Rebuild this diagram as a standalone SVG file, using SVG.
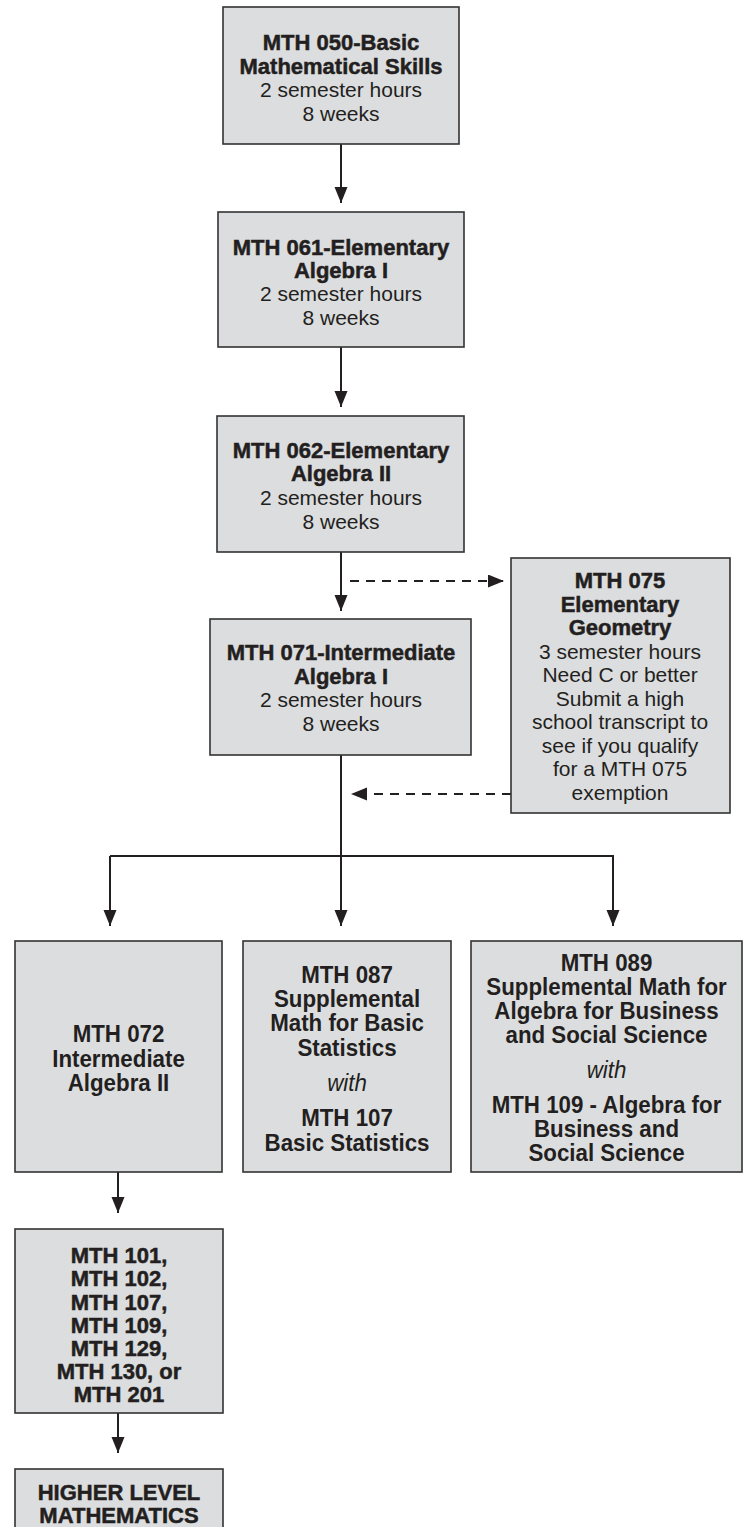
<svg xmlns="http://www.w3.org/2000/svg" width="745" height="1527" viewBox="0 0 745 1527">
<style>
.box{fill:#dcdddf;stroke:#333333;stroke-width:1.6}
.t{font-family:"Liberation Sans",Arial,sans-serif;fill:#231f20;text-anchor:middle}
.b{font-weight:bold;font-size:22px;stroke:#231f20;stroke-width:0.5}
.r{font-size:21px}
.n{font-family:"Liberation Sans",Arial,sans-serif;font-weight:bold;font-size:24px;fill:#231f20;text-anchor:middle}
.ni{font-family:"Liberation Sans",Arial,sans-serif;font-style:italic;font-size:24px;fill:#231f20;text-anchor:middle}
.ln{fill:none;stroke:#231f20;stroke-width:2}
.dl{fill:none;stroke:#231f20;stroke-width:2;stroke-dasharray:9 7}
</style>
<defs>
<marker id="ah" markerUnits="userSpaceOnUse" markerWidth="17" markerHeight="14" refX="16" refY="6.5" orient="auto">
<path d="M0,0 L16,6.5 L0,13 z" fill="#231f20"/>
</marker>
</defs>
<rect width="745" height="1527" fill="#ffffff"/>
<g id="connectors">
<line class="ln" x1="341" y1="144" x2="341" y2="203" marker-end="url(#ah)"/>
<line class="ln" x1="341" y1="347" x2="341" y2="407" marker-end="url(#ah)"/>
<line class="ln" x1="341" y1="552" x2="341" y2="611" marker-end="url(#ah)"/>
<line class="dl" x1="350" y1="581" x2="504" y2="581" marker-end="url(#ah)"/>
<line class="dl" x1="511" y1="794" x2="351" y2="794" marker-end="url(#ah)"/>
<line class="ln" x1="341" y1="755" x2="341" y2="926" marker-end="url(#ah)"/>
<polyline class="ln" points="110,856 613,856 613,926" marker-end="url(#ah)"/>
<path class="ln" d="M110,856 L110,926" marker-end="url(#ah)"/>
<line class="ln" x1="118" y1="1172" x2="118" y2="1213" marker-end="url(#ah)"/>
<line class="ln" x1="118" y1="1413" x2="118" y2="1453" marker-end="url(#ah)"/>
</g>
<g id="mth050">
<rect class="box" x="223" y="7" width="236" height="137"/>
<text class="t b" x="341" y="50">MTH 050-Basic</text>
<text class="t b" x="341" y="74">Mathematical Skills</text>
<text class="t r" x="341" y="97">2 semester hours</text>
<text class="t r" x="341" y="121">8 weeks</text>
</g>
<g id="mth061">
<rect class="box" x="218" y="212" width="246" height="135"/>
<text class="t b" x="341" y="255">MTH 061-Elementary</text>
<text class="t b" x="341" y="278">Algebra I</text>
<text class="t r" x="341" y="301">2 semester hours</text>
<text class="t r" x="341" y="325">8 weeks</text>
</g>
<g id="mth062">
<rect class="box" x="217" y="416" width="247" height="136"/>
<text class="t b" x="341" y="458">MTH 062-Elementary</text>
<text class="t b" x="341" y="481">Algebra II</text>
<text class="t r" x="341" y="505">2 semester hours</text>
<text class="t r" x="341" y="529">8 weeks</text>
</g>
<g id="mth071">
<rect class="box" x="210" y="619" width="261" height="136"/>
<text class="t b" x="341" y="660">MTH 071-Intermediate</text>
<text class="t b" x="341" y="684">Algebra I</text>
<text class="t r" x="341" y="707">2 semester hours</text>
<text class="t r" x="341" y="731">8 weeks</text>
</g>
<g id="mth075">
<rect class="box" x="511" y="558" width="219" height="255"/>
<text class="t b" x="620" y="588">MTH 075</text>
<text class="t b" x="620" y="611.5">Elementary</text>
<text class="t b" x="620" y="635">Geometry</text>
<text class="t r" x="620" y="658.5">3 semester hours</text>
<text class="t r" x="620" y="682">Need C or better</text>
<text class="t r" x="620" y="705.5">Submit a high</text>
<text class="t r" x="620" y="729">school transcript to</text>
<text class="t r" x="620" y="752.5">see if you qualify</text>
<text class="t r" x="620" y="776">for a MTH 075</text>
<text class="t r" x="620" y="799.5">exemption</text>
</g>
<g id="mth072">
<rect class="box" x="15" y="941" width="207" height="231"/>
<text class="n" transform="translate(118.5,1042) scale(0.93,1)">MTH 072</text>
<text class="n" transform="translate(118.5,1067) scale(0.93,1)">Intermediate</text>
<text class="n" transform="translate(118.5,1091) scale(0.93,1)">Algebra II</text>
</g>
<g id="mth087">
<rect class="box" x="243" y="941" width="208" height="231"/>
<text class="n" transform="translate(347,983) scale(0.93,1)">MTH 087</text>
<text class="n" transform="translate(347,1007) scale(0.93,1)">Supplemental</text>
<text class="n" transform="translate(347,1031) scale(0.93,1)">Math for Basic</text>
<text class="n" transform="translate(347,1056) scale(0.93,1)">Statistics</text>
<text class="ni" transform="translate(347,1091) scale(0.93,1)">with</text>
<text class="n" transform="translate(347,1126) scale(0.93,1)">MTH 107</text>
<text class="n" transform="translate(347,1151) scale(0.93,1)">Basic Statistics</text>
</g>
<g id="mth089">
<rect class="box" x="471" y="941" width="271" height="231"/>
<text class="n" transform="translate(606.5,971) scale(0.93,1)">MTH 089</text>
<text class="n" transform="translate(606.5,995) scale(0.93,1)">Supplemental Math for</text>
<text class="n" transform="translate(606.5,1019) scale(0.93,1)">Algebra for Business</text>
<text class="n" transform="translate(606.5,1043) scale(0.93,1)">and Social Science</text>
<text class="ni" transform="translate(606.5,1078) scale(0.93,1)">with</text>
<text class="n" transform="translate(606.5,1113) scale(0.93,1)">MTH 109 - Algebra for</text>
<text class="n" transform="translate(606.5,1137) scale(0.93,1)">Business and</text>
<text class="n" transform="translate(606.5,1161) scale(0.93,1)">Social Science</text>
</g>
<g id="mth100level">
<rect class="box" x="15" y="1229" width="208" height="184"/>
<text class="t b" x="119" y="1263">MTH 101,</text>
<text class="t b" x="119" y="1286">MTH 102,</text>
<text class="t b" x="119" y="1310">MTH 107,</text>
<text class="t b" x="119" y="1333">MTH 109,</text>
<text class="t b" x="119" y="1356">MTH 129,</text>
<text class="t b" x="119" y="1379">MTH 130, or</text>
<text class="t b" x="119" y="1402">MTH 201</text>
</g>
<g id="higher">
<rect class="box" x="15" y="1469" width="208" height="70"/>
<text class="t b" x="119" y="1500">HIGHER LEVEL</text>
<text class="t b" x="119" y="1523">MATHEMATICS</text>
</g>
</svg>
